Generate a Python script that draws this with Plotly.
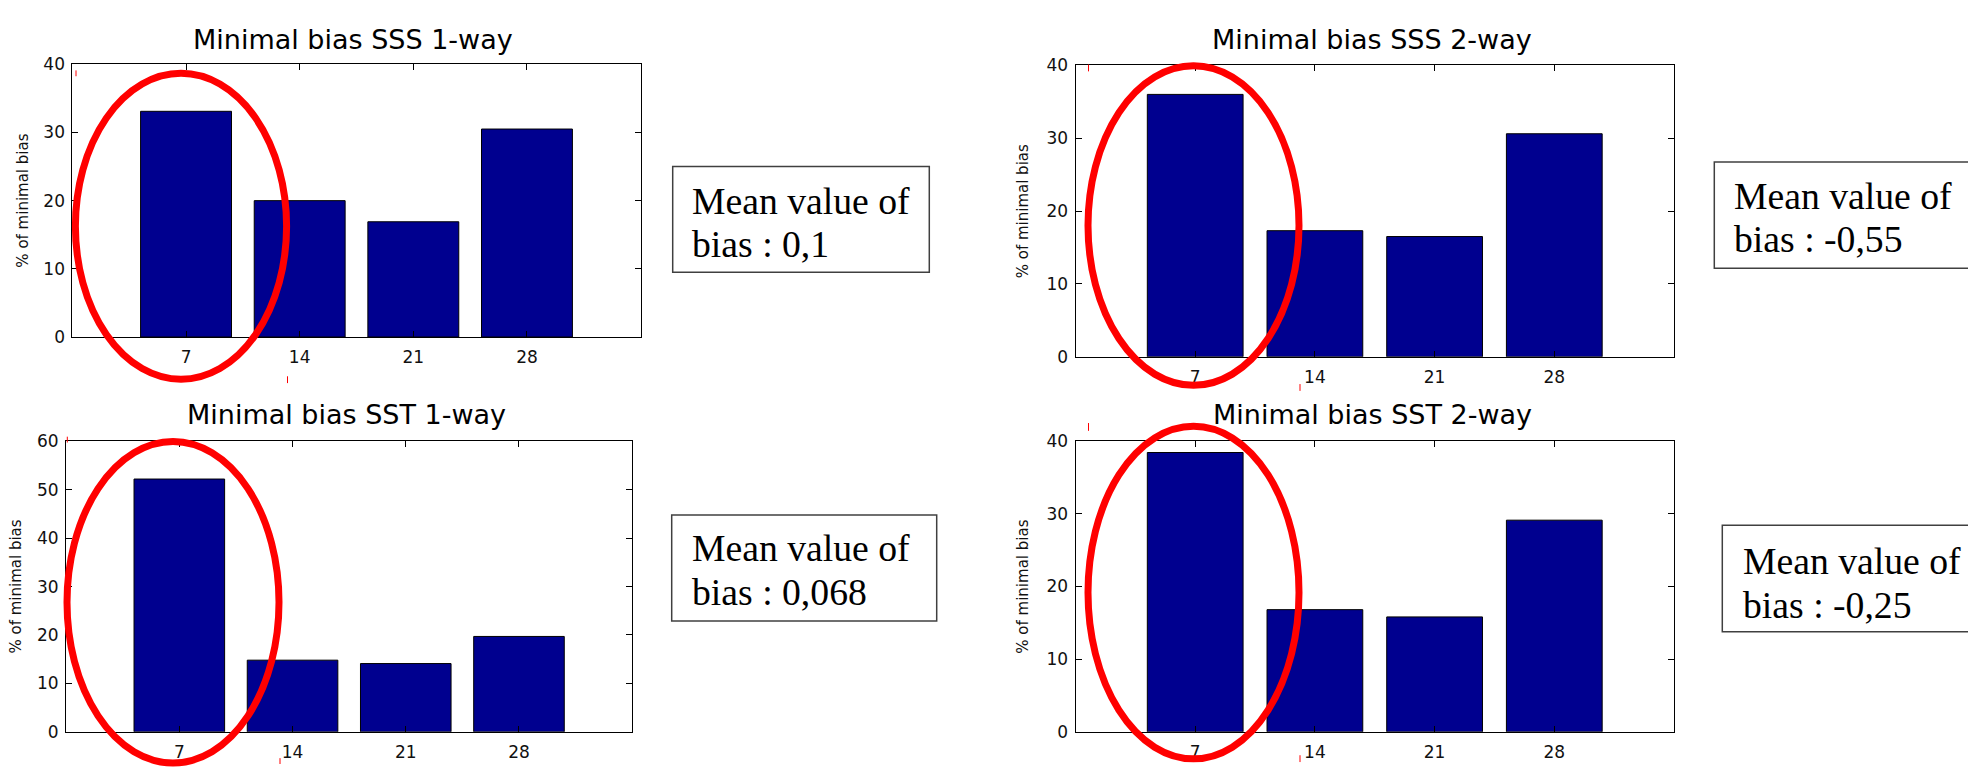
import plotly.graph_objects as go

W, H = 1968, 774

# ---- data ----
lags = [7, 14, 21, 28]
tick_labels = ["7", "14", "21", "28"]
sss_1way = [33.1, 20.0, 16.9, 30.5]
sst_1way = [52.2, 14.8, 14.1, 19.7]
sss_2way = [36.0, 17.3, 16.5, 30.6]
sst_2way = [38.4, 16.8, 15.8, 29.1]
titles = ["Minimal bias SSS 1-way", "Minimal bias SST 1-way",
          "Minimal bias SSS 2-way", "Minimal bias SST 2-way"]
ymax = [40, 60, 40, 40]
mean_labels = ["bias : 0,1", "bias : 0,068", "bias : -0,55", "bias : -0,25"]
ylabel = "% of minimal bias"

series = [sss_1way, sst_1way, sss_2way, sst_2way]

def X(px):
    return px / W

def Y(py):
    return 1 - py / H

# plot areas in pixels: (left, right, top, bottom)
areas = [
    (72.4, 640.6, 55.7, 335.7),
    (66.1, 632.2, 442.7, 741.0),
    (1075.5, 1674.0, 56.7, 356.0),
    (1075.5, 1674.0, 442.3, 741.0),
]
title_pos = [(352.5, 30.0), (346.4, 415.7), (1371.7, 30.0), (1372.6, 415.7)]
ylab_x = [23.0, 16.0, 1023.3, 1023.3]

fig = go.Figure()
layout = dict(
    width=W, height=H,
    margin=dict(l=0, r=0, t=0, b=0),
    paper_bgcolor="white", plot_bgcolor="white",
    showlegend=False,
    font=dict(family="DejaVu Sans", color="black"),
)

annotations = []
shapes = []

for i, (vals, area) in enumerate(zip(series, areas)):
    n = i + 1
    xa = "x" if n == 1 else f"x{n}"
    ya = "y" if n == 1 else f"y{n}"
    fig.add_trace(go.Bar(
        x=lags, y=vals, width=5.6, xaxis=xa, yaxis=ya,
        marker=dict(color="rgb(0,0,143)", line=dict(color="black", width=1)),
        hoverinfo="x+y",
    ))
    l, r, t, b = area
    axis_common = dict(
        showline=True, linecolor="black", linewidth=1, mirror="ticks",
        ticks="inside", ticklen=6, tickcolor="black", tickwidth=1,
        showgrid=False, zeroline=False, fixedrange=True,
        tickfont=dict(family="DejaVu Sans", size=17, color="#111"),
    )
    layout[f"xaxis{n}" if n > 1 else "xaxis"] = dict(
        axis_common, domain=[X(l), X(r)], range=[0, 35],
        tickvals=lags, ticktext=tick_labels, anchor=ya,
        ticklabelstandoff=5,
    )
    layout[f"yaxis{n}" if n > 1 else "yaxis"] = dict(
        axis_common, domain=[Y(b), Y(t)], range=[0, ymax[i]],
        dtick=10, anchor=xa, ticklabelstandoff=3,
    )
    tx, ty = title_pos[i]
    annotations.append(dict(
        text=titles[i], x=X(tx), y=Y(ty), xref="paper", yref="paper",
        xanchor="center", yanchor="middle", showarrow=False,
        font=dict(family="DejaVu Sans", size=27, color="black"),
    ))
    annotations.append(dict(
        text=ylabel, x=X(ylab_x[i]), y=Y((t + b) / 2), xref="paper", yref="paper",
        xanchor="center", yanchor="middle", showarrow=False, textangle=-90,
        font=dict(family="DejaVu Sans", size=15, color="#111"),
    ))

# text boxes: (left, right, top, bottom, text_left, baseline1, baseline2)
boxes = [
    (672.7, 929.3, 160.7, 269.3, 690.7, 208.3, 253.3),
    (671.7, 936.7, 518.3, 627.3, 690.7, 565.0, 610.0),
    (1714.3, 1990.0, 156.0, 265.0, 1733.3, 203.3, 248.3),
    (1722.3, 1990.0, 529.0, 638.3, 1741.7, 578.3, 623.3),
]
fs = 37.7
for (bl, br, bt, bb, tl, b1, b2), lab in zip(boxes, mean_labels):
    shapes.append(dict(type="rect", xref="paper", yref="paper",
                       x0=X(bl), x1=X(br), y0=Y(bb), y1=Y(bt),
                       line=dict(color="#404040", width=1.5), fillcolor="white",
                       layer="above"))
    for txt, base in (("Mean value of", b1), (lab, b2)):
        annotations.append(dict(
            text=txt, x=X(tl - 1), y=Y(base - 0.3375 * fs), xref="paper", yref="paper",
            xanchor="left", yanchor="middle", showarrow=False,
            font=dict(family="Liberation Serif", size=fs, color="black"),
        ))

# red ellipses (stroke centerlines, px)
ellipses = [
    (75.4, 286.6, 65.0, 379.0),
    (67.0, 279.0, 443.0, 773.0),
    (1088.0, 1299.0, 57.3, 385.3),
    (1088.0, 1299.0, 427.3, 768.7),
]
for (x0, x1, y0, y1) in ellipses:
    shapes.append(dict(type="circle", xref="paper", yref="paper",
                       x0=X(x0), x1=X(x1), y0=Y(y1), y1=Y(y0),
                       line=dict(color="#ff0000", width=7), layer="above"))

# small red handle marks
marks = [
    (76.0, 62.0, 68.0), (287.5, 376.0, 383.0),
    (67.3, 438.0, 444.0), (280.0, 768.0, 774.0),
    (1088.5, 56.0, 63.0), (1300.0, 384.0, 391.0),
    (1088.5, 424.0, 432.0), (1300.0, 765.0, 772.0),
]
for (mx, my0, my1) in marks:
    shapes.append(dict(type="line", xref="paper", yref="paper",
                       x0=X(mx), x1=X(mx), y0=Y(my1), y1=Y(my0),
                       line=dict(color="#ff0000", width=1), layer="above"))

layout["annotations"] = annotations
layout["shapes"] = shapes
fig.update_layout(**layout)
fig.write_html("out.html")
